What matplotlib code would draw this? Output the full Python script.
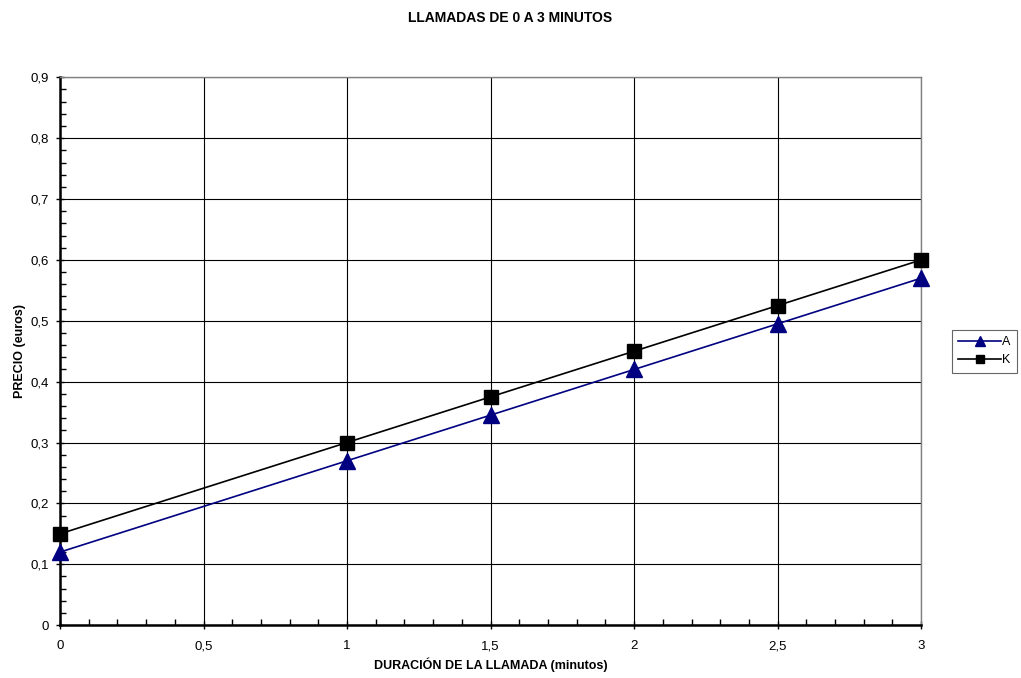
import numpy as np
import matplotlib
matplotlib.use('Agg')
import matplotlib.pyplot as plt
from matplotlib.ticker import MultipleLocator, FuncFormatter

plt.rcParams['font.family'] = ['Liberation Sans', 'DejaVu Sans']

minutos = [0, 1, 1.5, 2, 2.5, 3]
precio_a = [0.12, 0.27, 0.345, 0.42, 0.495, 0.57]
precio_k = [0.15, 0.30, 0.375, 0.45, 0.525, 0.60]

fig = plt.figure(figsize=(10.21, 6.78), dpi=100)
ax = fig.add_axes([0.0588, 0.078, 0.8434, 0.808])

ax.plot(minutos, precio_a, color='#000080', linewidth=1.2, marker='^',
        markersize=11, label='A', zorder=3, clip_on=False)
ax.plot(minutos, precio_k, color='black', linewidth=1.2, marker='s',
        markersize=10, label='K', zorder=4, clip_on=False)

ax.set_xlim(0, 3)
ax.set_ylim(0, 0.9)
ax.xaxis.set_major_locator(MultipleLocator(0.5))
ax.xaxis.set_minor_locator(MultipleLocator(0.1))
ax.yaxis.set_major_locator(MultipleLocator(0.1))
ax.yaxis.set_minor_locator(MultipleLocator(0.02))

coma = FuncFormatter(lambda v, p: ('%g' % round(v, 2)).replace('.', ','))
ax.xaxis.set_major_formatter(coma)
ax.yaxis.set_major_formatter(coma)

ax.grid(True, which='major', color='black', linewidth=0.8)
ax.set_axisbelow(True)
ax.tick_params(which='major', direction='inout', length=6, width=1, labelsize=9.5)
ax.tick_params(axis='y', which='major', pad=5)
ax.tick_params(axis='x', which='major', pad=14.5)
ax.tick_params(which='minor', direction='in', length=4, width=1)

for s in ['left', 'bottom']:
    ax.spines[s].set_linewidth(1.8)
    ax.spines[s].set_color('black')
for s in ['top', 'right']:
    ax.spines[s].set_color('#808080')
    ax.spines[s].set_linewidth(1)

ax.set_xlabel('DURACIÓN DE LA LLAMADA (minutos)', fontsize=9, fontweight='bold', labelpad=4)
ax.set_ylabel('PRECIO (euros)', fontsize=9, fontweight='bold', labelpad=3)
fig.suptitle('LLAMADAS DE 0 A 3 MINUTOS', fontsize=10, fontweight='bold', y=0.984)

leg = ax.legend(loc='center left', bbox_to_anchor=(1.036, 0.5), fontsize=9,
                frameon=True, fancybox=False, handlelength=3.4, markerscale=0.6,
                borderpad=0.5, handletextpad=0.1, labelspacing=0.5,
                borderaxespad=0)
leg.get_frame().set_edgecolor('#404040')
leg.get_frame().set_linewidth(0.8)

# comma labels have a descender; align x labels on baseline so they sit level
fig.canvas.draw()
for tick in ax.xaxis.get_major_ticks():
    tick.label1.set_verticalalignment('baseline')

fig.savefig('out.png', dpi=100)
